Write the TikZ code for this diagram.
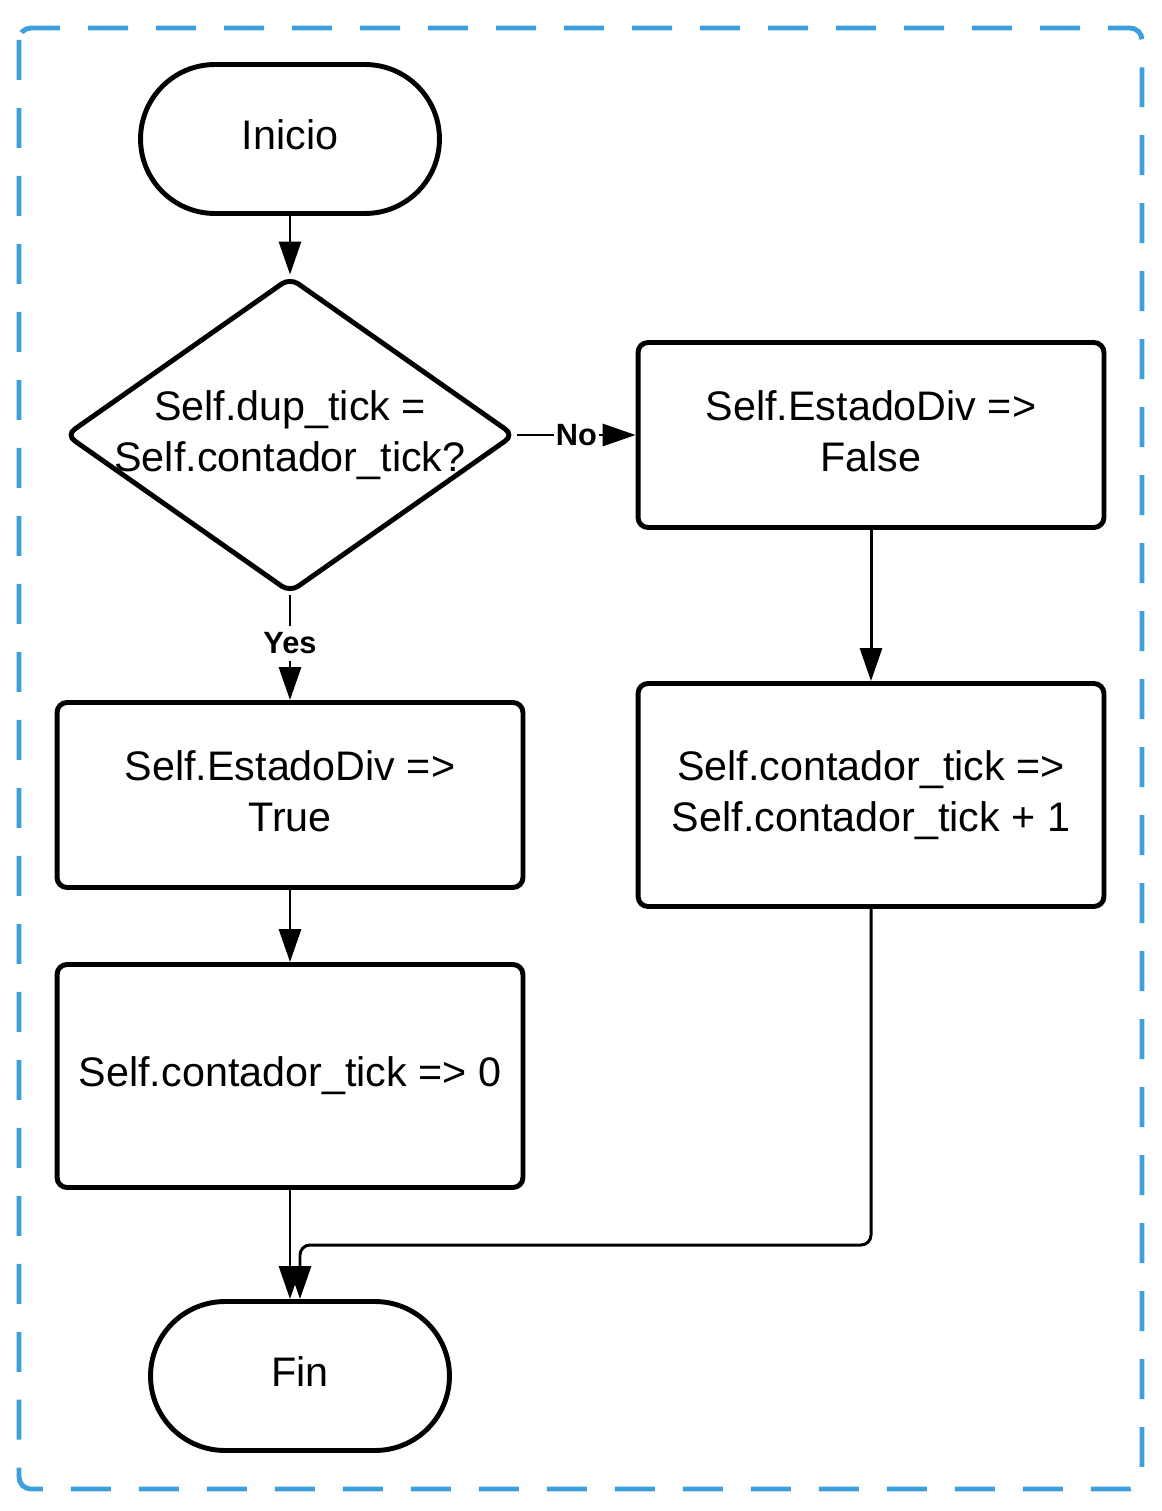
\documentclass[tikz,border=0pt]{standalone}
\usepackage{fontspec}
\setmainfont{Liberation Sans}
\usetikzlibrary{shapes.geometric,arrows.meta}
\definecolor{frameblue}{HTML}{3DA0DC}

\begin{document}
\begin{tikzpicture}[x=0.02cm,y=-0.02cm,
    font=\fontsize{23.5}{29}\selectfont,
    terminal/.style={draw,line width=2.8pt,rounded corners=1.49cm,minimum width=5.98cm,minimum height=2.98cm,text depth=5pt},
    process/.style={draw,line width=2.8pt,rounded corners=0.2cm,minimum width=9.32cm,align=center,text depth=5pt},
    decision/.style={draw,diamond,line width=2.8pt,rounded corners=0.2cm,minimum width=8.99cm,minimum height=6.32cm,inner sep=0pt},
    flow/.style={line width=1.7pt,-{Triangle[length=0.66cm,width=0.44cm]}},
    tag/.style={font=\bfseries\fontsize{17.5}{20}\selectfont,fill=white,inner sep=1pt}]
            \useasboundingbox (0,0) rectangle (1161,1511);
            \draw[frameblue,line width=2.8pt,dash pattern=on 0.8cm off 0.56cm,rounded corners=0.24cm]
            (19,28) rectangle (1142,1489);
            \path
            (290,139)   node[terminal] (start) {Inicio}
            (290,435)   node[decision,label={[align=center]center:Self.dup\_tick =\\Self.contador\_tick?}] (check) {}
            (871,435)   node[process,minimum height=3.7cm] (false) {Self.EstadoDiv =>\\False}
            (871,795)   node[process,minimum height=4.46cm] (plus) {Self.contador\_tick =>\\Self.contador\_tick + 1}
            (290,795)   node[process,minimum height=3.7cm] (true) {Self.EstadoDiv =>\\True}
            (290,1076)  node[process,minimum height=4.46cm] (zero) {Self.contador\_tick => 0}
            (300,1376)  node[terminal] (fin) {Fin};
            \coordinate (turn) at (871,1245);
            \draw[flow] (start.south)--(check.north);
            \draw[flow] (check.east)--(false.west) node[pos=.5,tag]{No};
            \draw[flow] (check.south)--(true.north) node[pos=.46,tag,inner ysep=4pt]{Yes};
            \draw[flow] (false.south)--(plus.north);
            \draw[flow] (true.south)--(zero.north);
            \draw[flow] (zero.south)--(zero.south |- fin.north);
            \draw[flow,rounded corners=0.2cm] (plus.south)--(turn) -| (fin.north);
            \end{tikzpicture}
\end{document}
